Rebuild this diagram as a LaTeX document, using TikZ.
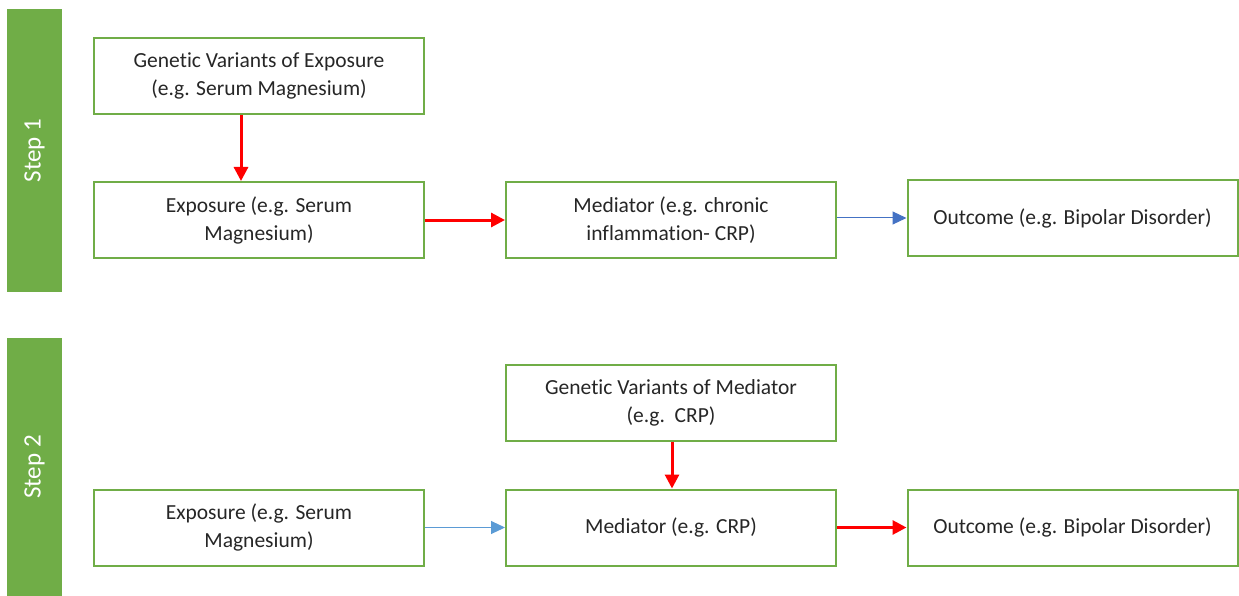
\documentclass[tikz,border=0pt]{standalone}
\usepackage{fontspec}
\setmainfont{Carlito}[Ligatures=NoCommon]
\usetikzlibrary{arrows.meta}
\definecolor{ogreen}{HTML}{70AD47}
\definecolor{oblue}{HTML}{4472C4}
\definecolor{lblue}{HTML}{5B9BD5}
\definecolor{ored}{HTML}{FF0000}
\begin{document}
\begin{tikzpicture}[x=1pt,y=-1pt,
  box/.style={draw=ogreen,line width=2pt,minimum width=330pt,minimum height=76pt,inner sep=0pt,align=center,font=\fontsize{21.5}{28}\selectfont,text=black!85},
  bar/.style={fill=ogreen,draw=none,minimum width=55pt,inner sep=0pt},
  steptxt/.style={white,rotate=90,font=\fontsize{25}{30}\selectfont},
  redarr/.style={draw=ored,line width=3pt,-{Triangle[length=14pt,width=14pt]}},
  bluarr/.style={line width=1pt,-{Triangle[length=14pt,width=13pt]}}]
\useasboundingbox (0,0) rectangle (1239,596);
\node[bar,minimum height=283pt] (s1) at (34.5,150.5) {};
\node[steptxt] (s1t) at (s1.center) {Step 1};
\node[bar,minimum height=258pt] (s2) at (34.5,467) {};
\node[steptxt] (s2t) at (s2.center) {Step 2};
% step 1
\node[box] (gve) at (259,76) {Genetic Variants of Exposure\\(e.g. Serum Magnesium)};
\node[box] (exp1) at (259,220) {Exposure (e.g. Serum\\Magnesium)};
\node[box] (med1) at (671,220) {Mediator (e.g. chronic\\inflammation- CRP)};
\node[box] (out1) at (1072.5,218) {Outcome (e.g. Bipolar Disorder)};
% step 2
\node[box] (gvm) at (671,402.5) {Genetic Variants of Mediator\\(e.g.\ \ CRP)};
\node[box] (exp2) at (259,527.5) {Exposure (e.g. Serum\\Magnesium)};
\node[box] (med2) at (671,527.5) {Mediator (e.g. CRP)};
\node[box] (out2) at (1072.5,527.5) {Outcome (e.g. Bipolar Disorder)};
% arrows
\draw[redarr] (gve.south -| 241,0) -- (exp1.north -| 241,0);
\draw[redarr] (exp1.east) -- (med1.west);
\draw[bluarr,draw=oblue] ([yshift=2pt]med1.east) -- (out1.west);
\draw[redarr] (gvm.south -| 672,0) -- (med2.north -| 672,0);
\draw[bluarr,draw=lblue] (exp2.east) -- (med2.west);
\draw[redarr] (med2.east) -- (out2.west);
\end{tikzpicture}
\end{document}
